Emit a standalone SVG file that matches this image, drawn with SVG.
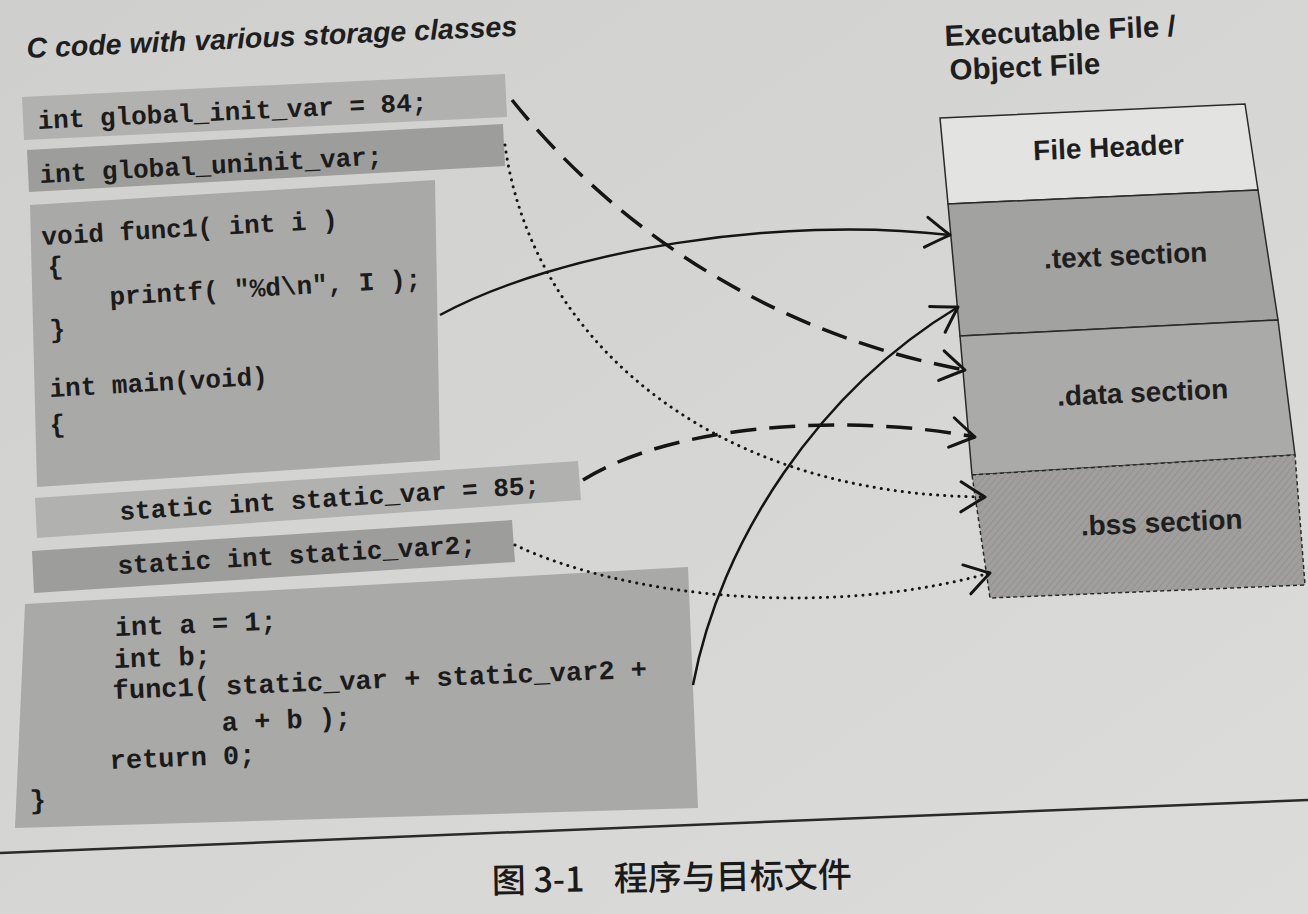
<svg xmlns="http://www.w3.org/2000/svg" width="1308" height="914" viewBox="0 0 1308 914">
  <defs>
    <linearGradient id="page" x1="0" y1="0" x2="1" y2="1">
      <stop offset="0" stop-color="#cfcfcd"/>
      <stop offset="1" stop-color="#dcdcda"/>
    </linearGradient>
    <pattern id="hatch" width="5" height="5" patternUnits="userSpaceOnUse" patternTransform="rotate(40)">
      <rect width="5" height="5" fill="#a09f9d"/>
      <line x1="0" y1="0" x2="0" y2="5" stroke="#8d8c8a" stroke-width="1.4"/>
    </pattern>
    <marker id="arr" viewBox="-30 -20 40 40" markerWidth="40" markerHeight="40" refX="0" refY="0" orient="auto" markerUnits="userSpaceOnUse">
      <path d="M-24,-15 Q-10,-6 0,0 Q-10,6 -24,15" fill="none" stroke="#151515" stroke-width="3" stroke-linecap="round" stroke-linejoin="round"/>
    </marker>
    <style>
      .code { font-family: "Liberation Mono", "DejaVu Sans Mono", monospace; font-weight: bold; font-size: 26px; fill: #1b1b1b; }
      .big { font-size: 27px; }
      .head { font-family: "Liberation Sans", Arial, sans-serif; font-weight: bold; fill: #1e1e1e; }
      .title { font-style: italic; font-size: 28.5px; }
      .sec { font-size: 28px; text-anchor: middle; }
      .box1 { fill: #b1b1af; }
      .box2 { fill: #9d9d9b; }
      .box3 { fill: #a9a9a7; }
      .seg { stroke: #2a2a2a; stroke-width: 1.5; }
      .conn { fill: none; stroke: #151515; marker-end: url(#arr); }
      .solid { stroke-width: 2.5; }
      .dash { stroke-width: 3.5; stroke-dasharray: 26 13; }
      .dot { stroke-width: 3; stroke-linecap: round; stroke-dasharray: 0.1 7; }
      .cap { font-family: "Noto Sans CJK SC", "Noto Sans", sans-serif; font-size: 34px; font-weight: 500; fill: #1a1a1a; }
    </style>
  </defs>

  <rect x="0" y="0" width="1308" height="914" fill="url(#page)"/>

  <!-- Left heading -->
  <g id="code-title">
    <text class="head title" x="27" y="58" transform="rotate(-2.6 27 58)">C code with various storage classes</text>
  </g>

  <!-- Code blocks -->
  <g id="global-init">
    <polygon class="box1" points="22,97 505,74 507,117 24,140"/>
    <text class="code" x="38" y="129" transform="rotate(-2.7 38 129)">int global_init_var = 84;</text>
  </g>
  <g id="global-uninit">
    <polygon class="box2" points="27,150 503,124 505,166 29,192"/>
    <text class="code" x="40" y="183" transform="rotate(-3.1 40 183)">int global_uninit_var;</text>
  </g>
  <g id="func-block">
    <polygon class="box3" points="30,205 435,180 440,460 37,487"/>
    <text class="code" x="42" y="245" transform="rotate(-3.3 42 245)">void func1( int i )</text>
    <text class="code" x="48" y="275" transform="rotate(-3.3 48 275)">{</text>
    <text class="code" x="110" y="305" transform="rotate(-3.3 110 305)">printf( "%d\n", I );</text>
    <text class="code" x="50" y="338" transform="rotate(-3.3 50 338)">}</text>
    <text class="code" x="50" y="397" transform="rotate(-3.3 50 397)">int main(void)</text>
    <text class="code" x="50" y="433" transform="rotate(-3.3 50 433)">{</text>
  </g>
  <g id="static-var">
    <polygon class="box1" points="35,498 578,461 581,500 37,538"/>
    <text class="code" x="120" y="520" transform="rotate(-3.6 120 520)">static int static_var = 85;</text>
  </g>
  <g id="static-var2">
    <polygon class="box2" points="32,551 512,520 515,562 34,593"/>
    <text class="code" x="118" y="574" transform="rotate(-3.4 118 574)">static int static_var2;</text>
  </g>
  <g id="main-body">
    <polygon class="box3" points="25,604 688,567 698,808 15,828"/>
    <text class="code big" x="115" y="636" transform="rotate(-2.3 115 636)">int a = 1;</text>
    <text class="code big" x="114" y="668" transform="rotate(-2.3 114 668)">int b;</text>
    <text class="code big" x="113" y="699" transform="rotate(-2.3 113 699)">func1( static_var + static_var2 +</text>
    <text class="code big" x="222" y="731" transform="rotate(-2.3 222 731)">a + b );</text>
    <text class="code big" x="110" y="769" transform="rotate(-2.3 110 769)">return 0;</text>
    <text class="code big" x="30" y="809" transform="rotate(-2.3 30 809)">}</text>
  </g>

  <!-- Right heading -->
  <g id="file-title">
    <text class="head" font-size="29.5" x="945" y="46" transform="rotate(-2.5 945 46)">Executable File /</text>
    <text class="head" font-size="29.5" x="950" y="80" transform="rotate(-2.5 950 80)">Object File</text>
  </g>

  <!-- Object file sections -->
  <g id="file-header">
    <polygon class="seg" fill="#e3e3e1" points="940,118 1245,104 1258,190 948,204"/>
    <text class="head sec" x="1109" y="157" transform="rotate(-2.5 1109 157)">File Header</text>
  </g>
  <g id="text-section">
    <polygon class="seg" fill="#a2a2a0" points="948,204 1258,190 1278,320 960,336"/>
    <text class="head sec" x="1126" y="265" transform="rotate(-2.5 1126 265)">.text section</text>
  </g>
  <g id="data-section">
    <polygon class="seg" fill="#aaaaa8" points="960,336 1278,320 1295,455 972,475"/>
    <text class="head sec" x="1143" y="402" transform="rotate(-2.5 1143 402)">.data section</text>
  </g>
  <g id="bss-section">
    <polygon class="seg" fill="url(#hatch)" stroke-dasharray="4 3" points="972,475 1295,455 1305,585 990,598"/>
    <text class="head sec" x="1162" y="532" transform="rotate(-2.5 1162 532)">.bss section</text>
  </g>

  <!-- Connectors -->
  <g id="connectors">
    <path class="conn dash" d="M512,100 C600,210 750,330 965,370"/>
    <path class="conn dot" d="M505,145 C530,330 700,495 985,497"/>
    <path class="conn solid" d="M440,315 C560,250 780,215 950,235"/>
    <path class="conn dash" d="M583,480 C680,420 860,415 975,437"/>
    <path class="conn dot" d="M515,545 C620,595 820,620 990,573"/>
    <path class="conn solid" d="M693,685 C720,540 820,390 958,307"/>
  </g>

  <!-- Caption -->
  <g id="caption">
    <line x1="0" y1="853" x2="1308" y2="800" stroke="#2a2a2a" stroke-width="2.5"/>
    <text class="cap" x="492" y="893" transform="rotate(-1 492 893)">图 3-1<tspan x="614">程序与目标文件</tspan></text>
  </g>
</svg>
